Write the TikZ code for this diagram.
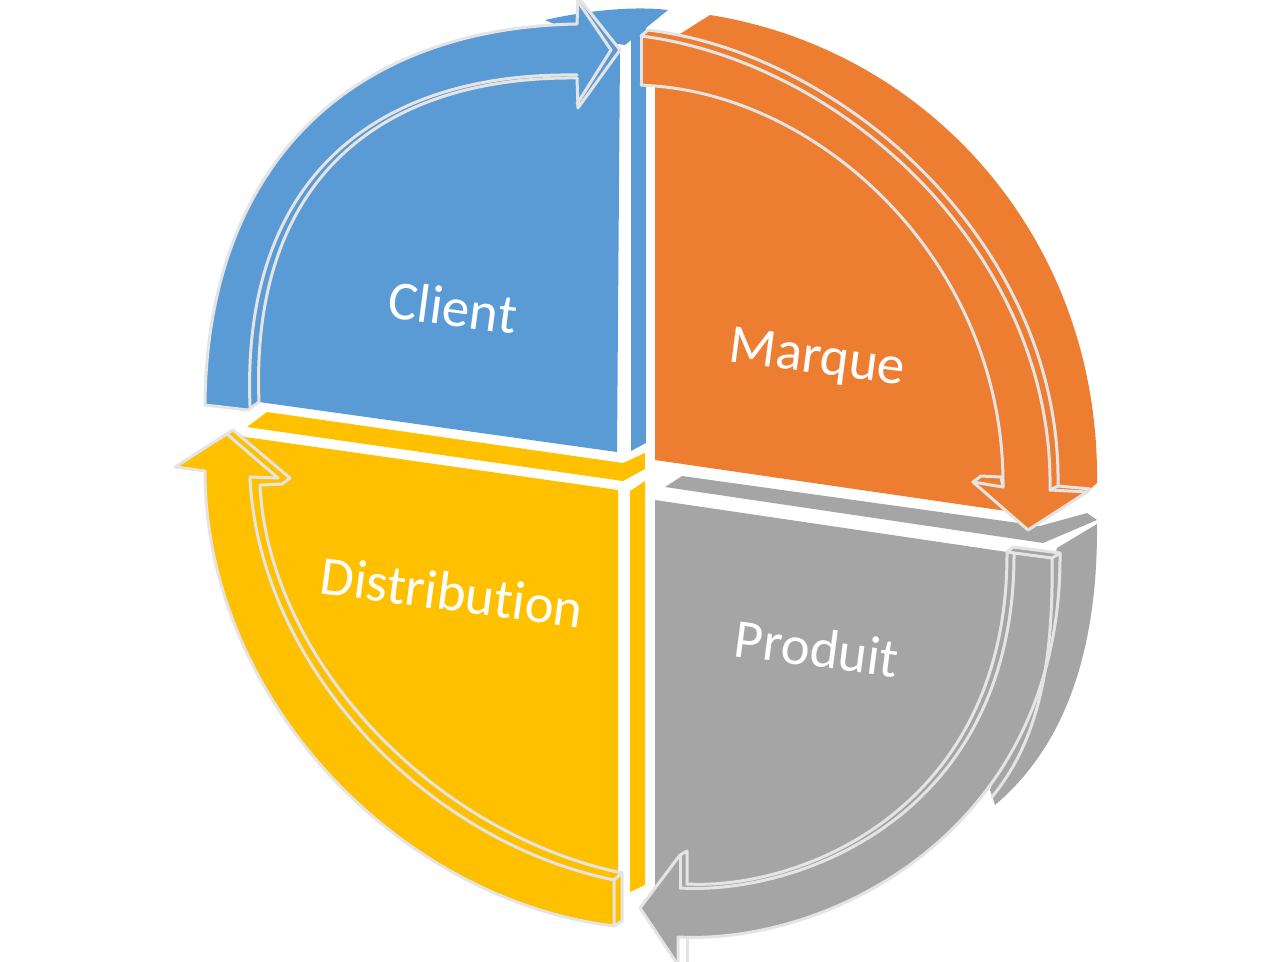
\documentclass[tikz,border=0pt]{standalone}
\usepackage{fontspec}
\setmainfont{Carlito}[Ligatures=NoCommon]
\definecolor{cblue}{HTML}{5B9BD5}
\definecolor{corange}{HTML}{ED7D31}
\definecolor{cgray}{HTML}{A5A5A5}
\definecolor{cyellow}{HTML}{FFC000}
\definecolor{edgec}{HTML}{E4E4E4}
\begin{document}
\begin{tikzpicture}[x=1pt,y=-1pt,
  rim/.style={draw=edgec,line width=3pt,line join=round,line cap=round},
  lbl/.style={text=white,font=\fontsize{55}{60}\selectfont,rotate=-7.5,inner sep=0pt}]
\useasboundingbox (0,0) rectangle (1282,961);

% ---------- back pieces ----------
\fill[cblue] (545,20) .. controls (590,10) and (635,6) .. (668,10) -- (625,45) -- (590,40) -- cycle;
\fill[cblue] (631,33) -- (646,22) -- (646,443) -- (631,451) -- cycle;
\fill[cyellow] (247,427) -- (267,412) -- (623,463) -- (645,453) -- (645,469) -- (623,481) -- cycle;
\fill[cyellow] (630,491) -- (645,481) -- (645,885) -- (630,892) -- cycle;
\fill[cgray] (665,487) -- (682,476) -- (1040,526) -- (1087,513) -- (1097,520) -- (1043,543) -- cycle;
\fill[cgray] (1057,548) -- (1097,524) .. controls (1098,660) and (1060,750) .. (995,805) -- (990,790) -- cycle;

% ---------- Client (blue) ----------
\fill[cblue] (205,405) .. controls (207,165) and (350,28) .. (577,24) -- (578,-3) -- (620,50) -- (617,452) -- (259,402) -- (248,410) -- cycle;
\draw[rim] (205,405) .. controls (207,165) and (350,28) .. (577,24) -- (578,-3) -- (620,50) -- (578,108) -- (577,78);
\draw[rim] (575,-3) -- (611,50) -- (577,104);
\draw[rim] (259,402) .. controls (250,180) and (380,76) .. (577,78);
\draw[rim] (250,406) .. controls (241,176) and (378,72) .. (577,75);
\draw[rim] (205,405) -- (248,410) -- (259,402);

% ---------- Distribution (yellow) ----------
\fill[cyellow] (175,467) -- (233,430) -- (245,437) -- (618,490) -- (618,871) -- (622,871) -- (622,921) -- (614,926) .. controls (400,900) and (205,700) .. (205,471) -- cycle;
\draw[rim] (614,926) .. controls (400,900) and (205,700) .. (205,471) -- (175,467) -- (233,430) -- (290,478) -- (282,484) -- (260,485);
\draw[rim] (228,435) -- (278,478) -- (250,477);
\draw[rim] (250,477) .. controls (258,660) and (420,840) .. (614,880);
\draw[rim] (260,485) .. controls (268,655) and (428,832) .. (622,873);
\draw[rim] (614,880) -- (614,926) -- (622,921) -- (622,873) -- cycle;

% ---------- Produit (gray) ----------
\fill[cgray] (655,500) -- (1007,552) -- (1013,547) -- (1060,553) .. controls (1062,830) and (830,945) .. (678,937) -- (678,965) -- (640,907) -- (655,889) -- cycle;
\draw[rim] (1060,553) .. controls (1062,830) and (830,945) .. (678,937) -- (678,965);
\draw[rim] (1052,558) .. controls (1054,680) and (1032,748) .. (992,797);
\draw[rim] (1007,552) -- (1013,547) -- (1060,553) -- (1052,558) -- cycle;
\draw[rim] (1007,552) .. controls (1008,810) and (800,890) .. (687,884);
\draw[rim] (1014,553) .. controls (1015,815) and (800,895) .. (680,888);
\draw[rim] (678,965) -- (640,908) -- (680,855) -- (687,851) -- (687,884);
\draw[rim] (680,855) -- (680,888);
\draw[rim] (687,937) -- (687,965);

% ---------- Marque (orange) ----------
\fill[corange] (640,35) -- (648,30) -- (680,34) -- (710,15) .. controls (930,50) and (1100,240) .. (1097,483) -- (1087,492) -- (1028,530) -- (1006,511) -- (655,460) -- (655,85) -- (640,85) -- cycle;
\draw[rim] (648,30) .. controls (850,55) and (1062,250) .. (1058,486);
\draw[rim] (641,36) .. controls (845,62) and (1054,255) .. (1050,490);
\draw[rim] (641,36) -- (648,30);
\draw[rim] (641,36) -- (641,85);
\draw[rim] (1050,490) -- (1058,486) -- (1090,489) -- (1087,492) -- (1028,530) -- (973,482) -- (981,476) -- (1001,477) -- (1003,487);
\draw[rim] (1050,490) -- (1087,492);
\draw[rim] (973,482) -- (1003,487);
\draw[rim] (641,85) -- (655,86) .. controls (830,100) and (1005,270) .. (1003,487);

% ---------- labels ----------
\node[lbl] (client) at (453,307) {Client};
\node[lbl] (marque) at (817,360) {Marque};
\node[lbl] (distribution) at (452,592) {Distribution};
\node[lbl] (produit) at (817,648) {Produit};
\end{tikzpicture}
\end{document}
